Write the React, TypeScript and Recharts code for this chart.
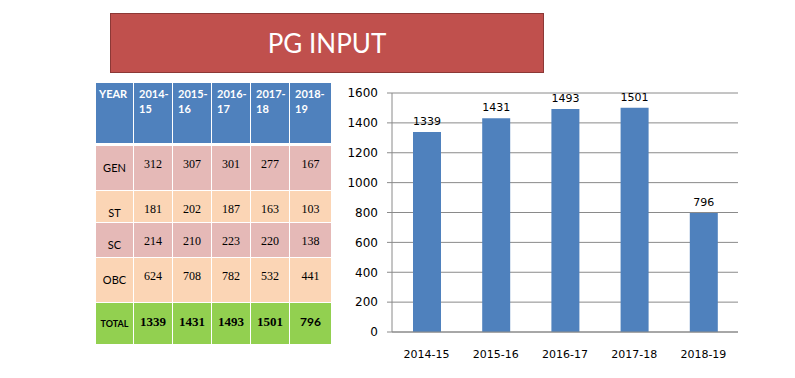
import React from 'react';
import { BarChart, Bar, XAxis, YAxis, CartesianGrid, LabelList } from 'recharts';

const years = ['2014-15', '2015-16', '2016-17', '2017-18', '2018-19'];
const headerYears = [['2014-', '15'], ['2015-', '16'], ['2016-', '17'], ['2017-', '18'], ['2018-', '19']];
const genValues = [312, 307, 301, 277, 167];
const stValues = [181, 202, 187, 163, 103];
const scValues = [214, 210, 223, 220, 138];
const obcValues = [624, 708, 782, 532, 441];
const totalValues = [1339, 1431, 1493, 1501, 796];
const yTicks = [0, 200, 400, 600, 800, 1000, 1200, 1400, 1600];

const chartData = years.map((year, i) => ({ year, total: totalValues[i] }));

// column edges and row edges of the table (page px)
const colX = [96, 134, 173, 212, 251, 290, 332];
const tableRows = [
  { label: 'GEN', values: genValues, top: 146, bottom: 190, bg: '#e5b9b7', total: false },
  { label: 'ST', values: stValues, top: 191, bottom: 222, bg: '#fbd5b5', total: false },
  { label: 'SC', values: scValues, top: 223, bottom: 257, bg: '#e5b9b7', total: false },
  { label: 'OBC', values: obcValues, top: 258, bottom: 302, bg: '#fbd5b5', total: false },
  { label: 'TOTAL', values: totalValues, top: 303, bottom: 344, bg: '#92d050', total: true },
];

const sans = 'Lato, "Open Sans", sans-serif';
const serif = '"Liberation Serif", "DejaVu Serif", serif';
const chartFont = '"DejaVu Sans", sans-serif';

const cellFontSize = (isLabel: boolean, total: boolean, lastTotal: boolean) => {
  if (isLabel) return total ? 9 : 11;
  if (lastTotal) return 12;
  return total ? 13 : 12;
};

const DataTable: React.FC = () => (
  <>
    {/* header row */}
    {colX.slice(0, -1).map((x, c) => (
      <div
        key={`h${c}`}
        style={{
          position: 'absolute', left: x, top: 83, width: colX[c + 1] - x - 1, height: 60,
          background: '#4f81bd', color: '#fff', fontFamily: sans, fontWeight: 700,
          fontSize: 11, lineHeight: '15px', paddingLeft: c === 0 ? 3 : 5, paddingTop: 3,
          boxSizing: 'border-box',
        }}
      >
        {c === 0 ? 'YEAR' : (
          <>
            <div>{headerYears[c - 1][0]}</div>
            <div>{headerYears[c - 1][1]}</div>
          </>
        )}
      </div>
    ))}
    {tableRows.map((row) =>
      colX.slice(0, -1).map((x, c) => {
        const isLabel = c === 0;
        const text = isLabel ? row.label : String(row.values[c - 1]);
        const lastTotal = row.total && c === 5;
        return (
          <div
            key={`${row.label}${c}`}
            style={{
              position: 'absolute', left: x, top: row.top, width: colX[c + 1] - x - 1,
              height: row.bottom - row.top, background: row.bg, boxSizing: 'border-box',
              textAlign: 'center', color: '#000',
              paddingTop: row.total ? (isLabel ? 14 : 12) : isLabel ? 15 : 11,
              fontFamily: isLabel || lastTotal ? sans : serif,
              fontWeight: row.total ? 700 : 400,
              fontSize: cellFontSize(isLabel, row.total, lastTotal),
              lineHeight: '14px',
            }}
          >
            {text}
          </div>
        );
      })
    )}
  </>
);

export default function App() {
  return (
    <div style={{ position: 'absolute', left: 0, top: 0, width: 795, height: 378, background: '#fff', overflow: 'hidden' }}>
      <div
        style={{
          position: 'absolute', left: 110, top: 13, width: 434, height: 60,
          background: '#c0504d', border: '1px solid #8c3836', boxSizing: 'border-box',
          color: '#fff', fontFamily: sans, fontSize: 26, display: 'flex',
          alignItems: 'center', justifyContent: 'center',
        }}
      >
        PG INPUT
      </div>

      <DataTable />

      <div style={{ position: 'absolute', left: 340, top: 80 }}>
        <BarChart width={420} height={280} data={chartData} margin={{ top: 13, right: 22, bottom: 0, left: 0 }}>
          <CartesianGrid vertical={false} stroke="#8a8a8a" />
          <XAxis
            dataKey="year"
            height={28}
            tickLine={false}
            tickMargin={12}
            axisLine={{ stroke: '#8a8a8a' }}
            tick={{ fill: '#000', fontSize: 11, fontFamily: chartFont }}
          />
          <YAxis
            width={52}
            domain={[0, 1600]}
            ticks={yTicks}
            interval={0}
            tickSize={5}
            tickMargin={9}
            axisLine={{ stroke: '#8a8a8a' }}
            tickLine={{ stroke: '#8a8a8a' }}
            tick={{ fill: '#000', fontSize: 12, fontFamily: chartFont }}
          />
          <Bar dataKey="total" fill="#4f81bd" barSize={28} isAnimationActive={false}>
            <LabelList
              dataKey="total"
              position="top"
              offset={7}
              fill="#000"
              fontSize={11}
              fontFamily={chartFont}
            />
          </Bar>
        </BarChart>
      </div>
    </div>
  );
}
